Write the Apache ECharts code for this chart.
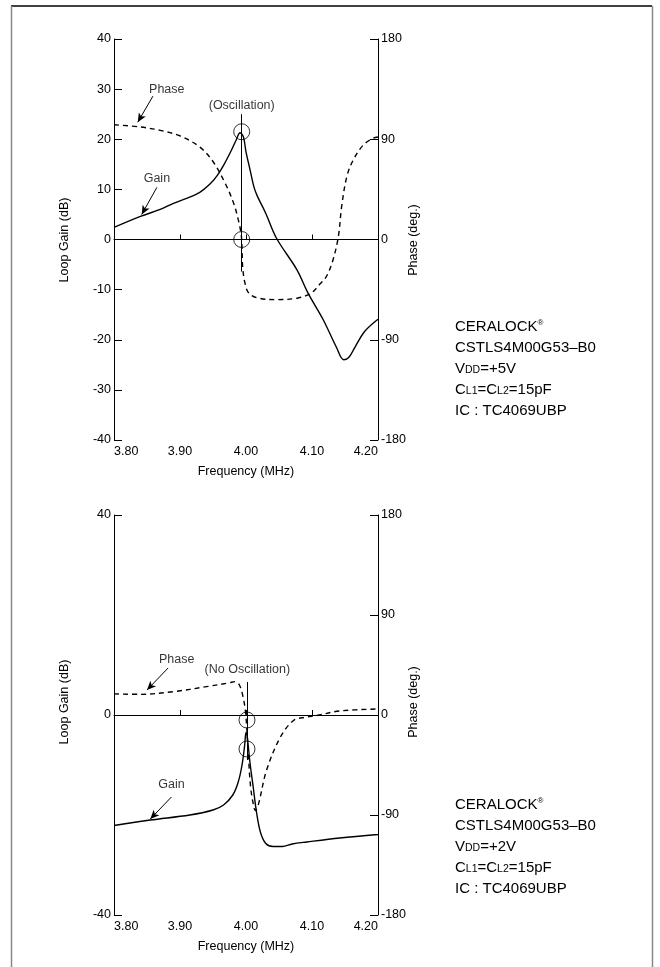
<!DOCTYPE html>
<html><head><meta charset="utf-8">
<script src="https://cdn.jsdelivr.net/npm/echarts@6/dist/echarts.min.js"></script>
<style>html,body{margin:0;padding:0;background:#fff}#c{width:660px;height:967px}</style>
</head><body><div id="c"></div>
<script>
// ---- data ----
const freqRange = [3.80, 4.20];
const topGainF = [3.800,3.840,3.870,3.890,3.910,3.930,3.945,3.956,3.966,3.976,3.985,3.991,3.996,4.000,4.006,4.012,4.017,4.030,4.046,4.077,4.094,4.117,4.137,4.148,4.156,4.165,4.180,4.200];
const topGainV = [2.4,4.6,6.0,7.2,8.2,9.4,11.0,12.7,14.8,17.3,19.8,21.3,20.5,17.5,14.0,10.5,8.7,5.2,0.3,-6,-10.7,-16,-21.5,-24,-23.5,-21.5,-18.3,-15.9];
const topPhaseF = [3.800,3.840,3.870,3.900,3.930,3.950,3.968,3.981,3.989,3.993,3.994,3.995,3.998,4.004,4.018,4.048,4.079,4.099,4.112,4.122,4.132,4.140,4.145,4.153,4.163,4.178,4.193,4.200];
const topPhaseV = [103,101,98,93,83,70,51,33,16,3,-10,-25,-38,-48,-52.5,-54,-52.5,-48,-40,-33,-18,3,30,57,72,85,91,92];
const botGainF = [3.800,3.855,3.915,3.950,3.966,3.980,3.988,3.994,3.998,4.000,4.002,4.006,4.011,4.016,4.022,4.030,4.041,4.055,4.070,4.092,4.142,4.200];
const botGainV = [-22.1,-21.0,-20.0,-19.0,-18.0,-16.0,-13.5,-10.0,-6.0,-3.5,-4.5,-9.5,-14.5,-19.5,-23.5,-25.7,-26.3,-26.3,-25.8,-25.4,-24.6,-23.9];
const botPhaseF = [3.800,3.839,3.890,3.940,3.975,3.983,3.990,3.996,3.999,4.001,4.004,4.007,4.011,4.014,4.019,4.031,4.052,4.072,4.090,4.107,4.142,4.200];
const botPhaseV = [19,18.6,21,25.5,29,30,27,15,4,-10,-40,-65,-80,-86,-80,-50,-20,-5,-2,-0.5,3.6,5.4];
// markers: oscillation frequency and circled gain values
const topMarkF = 3.9935, topMarkGain = [21.5, 0], topVLine = [25, -6.4];
const botMarkF = 4.0015, botMarkGain = [-1, -6.8], botVLine = [6.6, -9];
// annotation labels [text, freq, gain]
const topNotes = [['Phase', 3.880, 30], ['Gain', 3.865, 12.2], ['(Oscillation)', 3.9935, 26.8]];
const botNotes = [['Phase', 3.895, 11], ['(No Oscillation)', 4.002, 9], ['Gain', 3.887, -14]];
// annotation arrows [f1, g1, f2, g2]
const topArrows = [[3.859, 28.6, 3.836, 23.4], [3.865, 10.4, 3.842, 5]];
const botArrows = [[3.882, 9.4, 3.850, 5], [3.887, -16.4, 3.855, -20.8]];
const specTop = ['CERALOCK', 'CSTLS4M00G53–B0', '+5V', '15pF', 'IC : TC4069UBP'];
const specBot = ['CERALOCK', 'CSTLS4M00G53–B0', '+2V', '15pF', 'IC : TC4069UBP'];

const zip = (a, b) => a.map((v, i) => [v, b[i]]);
const FONT = 'Liberation Sans, Arial, sans-serif';
const black = '#000';

function xAxis(grid) {
  return {
    type: 'value', gridIndex: grid, min: freqRange[0], max: freqRange[1], interval: 0.1,
    name: 'Frequency (MHz)', nameLocation: 'middle', nameGap: 25,
    nameTextStyle: { color: black, fontSize: 12.5, fontFamily: FONT },
    axisLine: { lineStyle: { color: black, width: 1 } },
    axisTick: { inside: true, length: 5, lineStyle: { color: black } },
    axisLabel: { color: black, fontSize: 12.5, fontFamily: FONT, margin: 5,
      formatter: v => v.toFixed(2), alignMinLabel: 'left', alignMaxLabel: 'right' },
    splitLine: { show: false }
  };
}
function yAxis(grid, pos, min, max, interval) {
  return {
    type: 'value', gridIndex: grid, position: pos, min, max, interval,
    axisLine: { show: true, lineStyle: { color: black, width: 1 } },
    axisTick: { show: true, inside: true, length: 8, lineStyle: { color: black } },
    axisLabel: { color: black, fontSize: 12.5, fontFamily: FONT, margin: 3 },
    splitLine: { show: false }
  };
}
function curve(xi, yi, data, dashed) {
  return { type: 'line', xAxisIndex: xi, yAxisIndex: yi, data, showSymbol: false, smooth: 0.35,
    silent: true,
    lineStyle: { color: black, width: 1.4, type: dashed ? [5, 4] : 'solid' } };
}
function marks(xi, yi, f, gains, vline, notes, arrows) {
  const mlData = [
    [{ coord: [freqRange[0], 0] }, { coord: [freqRange[1], 0] }],
    [{ coord: [f, vline[0]] }, { coord: [f, vline[1]] }]
  ];
  arrows.forEach(a => mlData.push([{ coord: [a[0], a[1]], symbol: 'none' }, { coord: [a[2], a[3]], symbol: 'arrow', symbolSize: [6, 9] }]));
  return [
    { type: 'scatter', xAxisIndex: xi, yAxisIndex: yi, silent: true,
      data: gains.map(g => [f, g]), symbol: 'circle', symbolSize: 16,
      itemStyle: { color: 'rgba(0,0,0,0)', borderColor: black, borderWidth: 1 },
      markLine: { silent: true, symbol: 'none', label: { show: false },
        lineStyle: { color: black, width: 1, type: 'solid' }, data: mlData, animation: false } },
    { type: 'scatter', xAxisIndex: xi, yAxisIndex: yi, silent: true, symbolSize: 0,
      itemStyle: { color: black },
      data: notes.map(n => ({ name: n[0], value: [n[1], n[2]] })),
      label: { show: true, position: 'inside', formatter: p => p.name, color: black,
        textBorderWidth: 0, textBorderColor: 'transparent',
        fontSize: 12.5, fontFamily: FONT } }
  ];
}
function specBlock(lines, top) {
  const lh = 21, x = 455;
  const base = { fill: black, fontSize: 15, fontFamily: FONT };
  const rich = { n: { fontSize: 15, fontFamily: FONT, fill: black }, s: { fontSize: 10.5, fontFamily: FONT, fill: black, verticalAlign: 'bottom' }, u: { fontSize: 8, fontFamily: FONT, fill: black, verticalAlign: 'top' } };
  return [
    { type: 'text', x, y: top, style: Object.assign({ text: '{n|' + lines[0] + '}{u|®}', rich }, base) },
    { type: 'text', x, y: top + lh, style: Object.assign({ text: lines[1] }, base) },
    { type: 'text', x, y: top + 2 * lh, style: Object.assign({ text: '{n|V}{s|DD}{n|=' + lines[2] + '}', rich }, base) },
    { type: 'text', x, y: top + 3 * lh, style: Object.assign({ text: '{n|C}{s|L1}{n|=C}{s|L2}{n|=' + lines[3] + '}', rich }, base) },
    { type: 'text', x, y: top + 4 * lh, style: Object.assign({ text: lines[4] }, base) }
  ];
}
function vname(text, x, y) {
  return { type: 'text', x, y, rotation: Math.PI / 2,
    style: { text, fill: black, fontSize: 12.5, fontFamily: FONT, align: 'center', verticalAlign: 'middle' } };
}

const chart = echarts.init(document.getElementById('c'), null, { renderer: 'canvas' });
chart.setOption({
  animation: false,
  backgroundColor: '#fff',
  grid: [
    { left: 114, top: 39, width: 264, height: 401 },
    { left: 114, top: 515, width: 264, height: 400 }
  ],
  xAxis: [xAxis(0), xAxis(1)],
  yAxis: [
    yAxis(0, 'left', -40, 40, 10), yAxis(0, 'right', -180, 180, 90),
    yAxis(1, 'left', -40, 40, 40), yAxis(1, 'right', -180, 180, 90)
  ],
  series: [
    curve(0, 0, zip(topGainF, topGainV), false),
    curve(0, 1, zip(topPhaseF, topPhaseV), true),
    curve(1, 2, zip(botGainF, botGainV), false),
    curve(1, 3, zip(botPhaseF, botPhaseV), true),
    ...marks(0, 0, topMarkF, topMarkGain, topVLine, topNotes, topArrows),
    ...marks(1, 2, botMarkF, botMarkGain, botVLine, botNotes, botArrows)
  ],
  graphic: [
    { type: 'line', shape: { x1: 11, y1: 6, x2: 652, y2: 6 }, style: { stroke: '#000', lineWidth: 1.5 } },
    { type: 'line', shape: { x1: 11.5, y1: 6, x2: 11.5, y2: 967 }, style: { stroke: '#888', lineWidth: 1.5 } },
    { type: 'line', shape: { x1: 652.5, y1: 6, x2: 652.5, y2: 967 }, style: { stroke: '#888', lineWidth: 1.5 } },
    vname('Loop Gain (dB)', 65, 240), vname('Phase (deg.)', 414, 240),
    vname('Loop Gain (dB)', 65, 702), vname('Phase (deg.)', 414, 702),
    ...specBlock(specTop, 319),
    ...specBlock(specBot, 797)
  ]
});
</script></body></html>
